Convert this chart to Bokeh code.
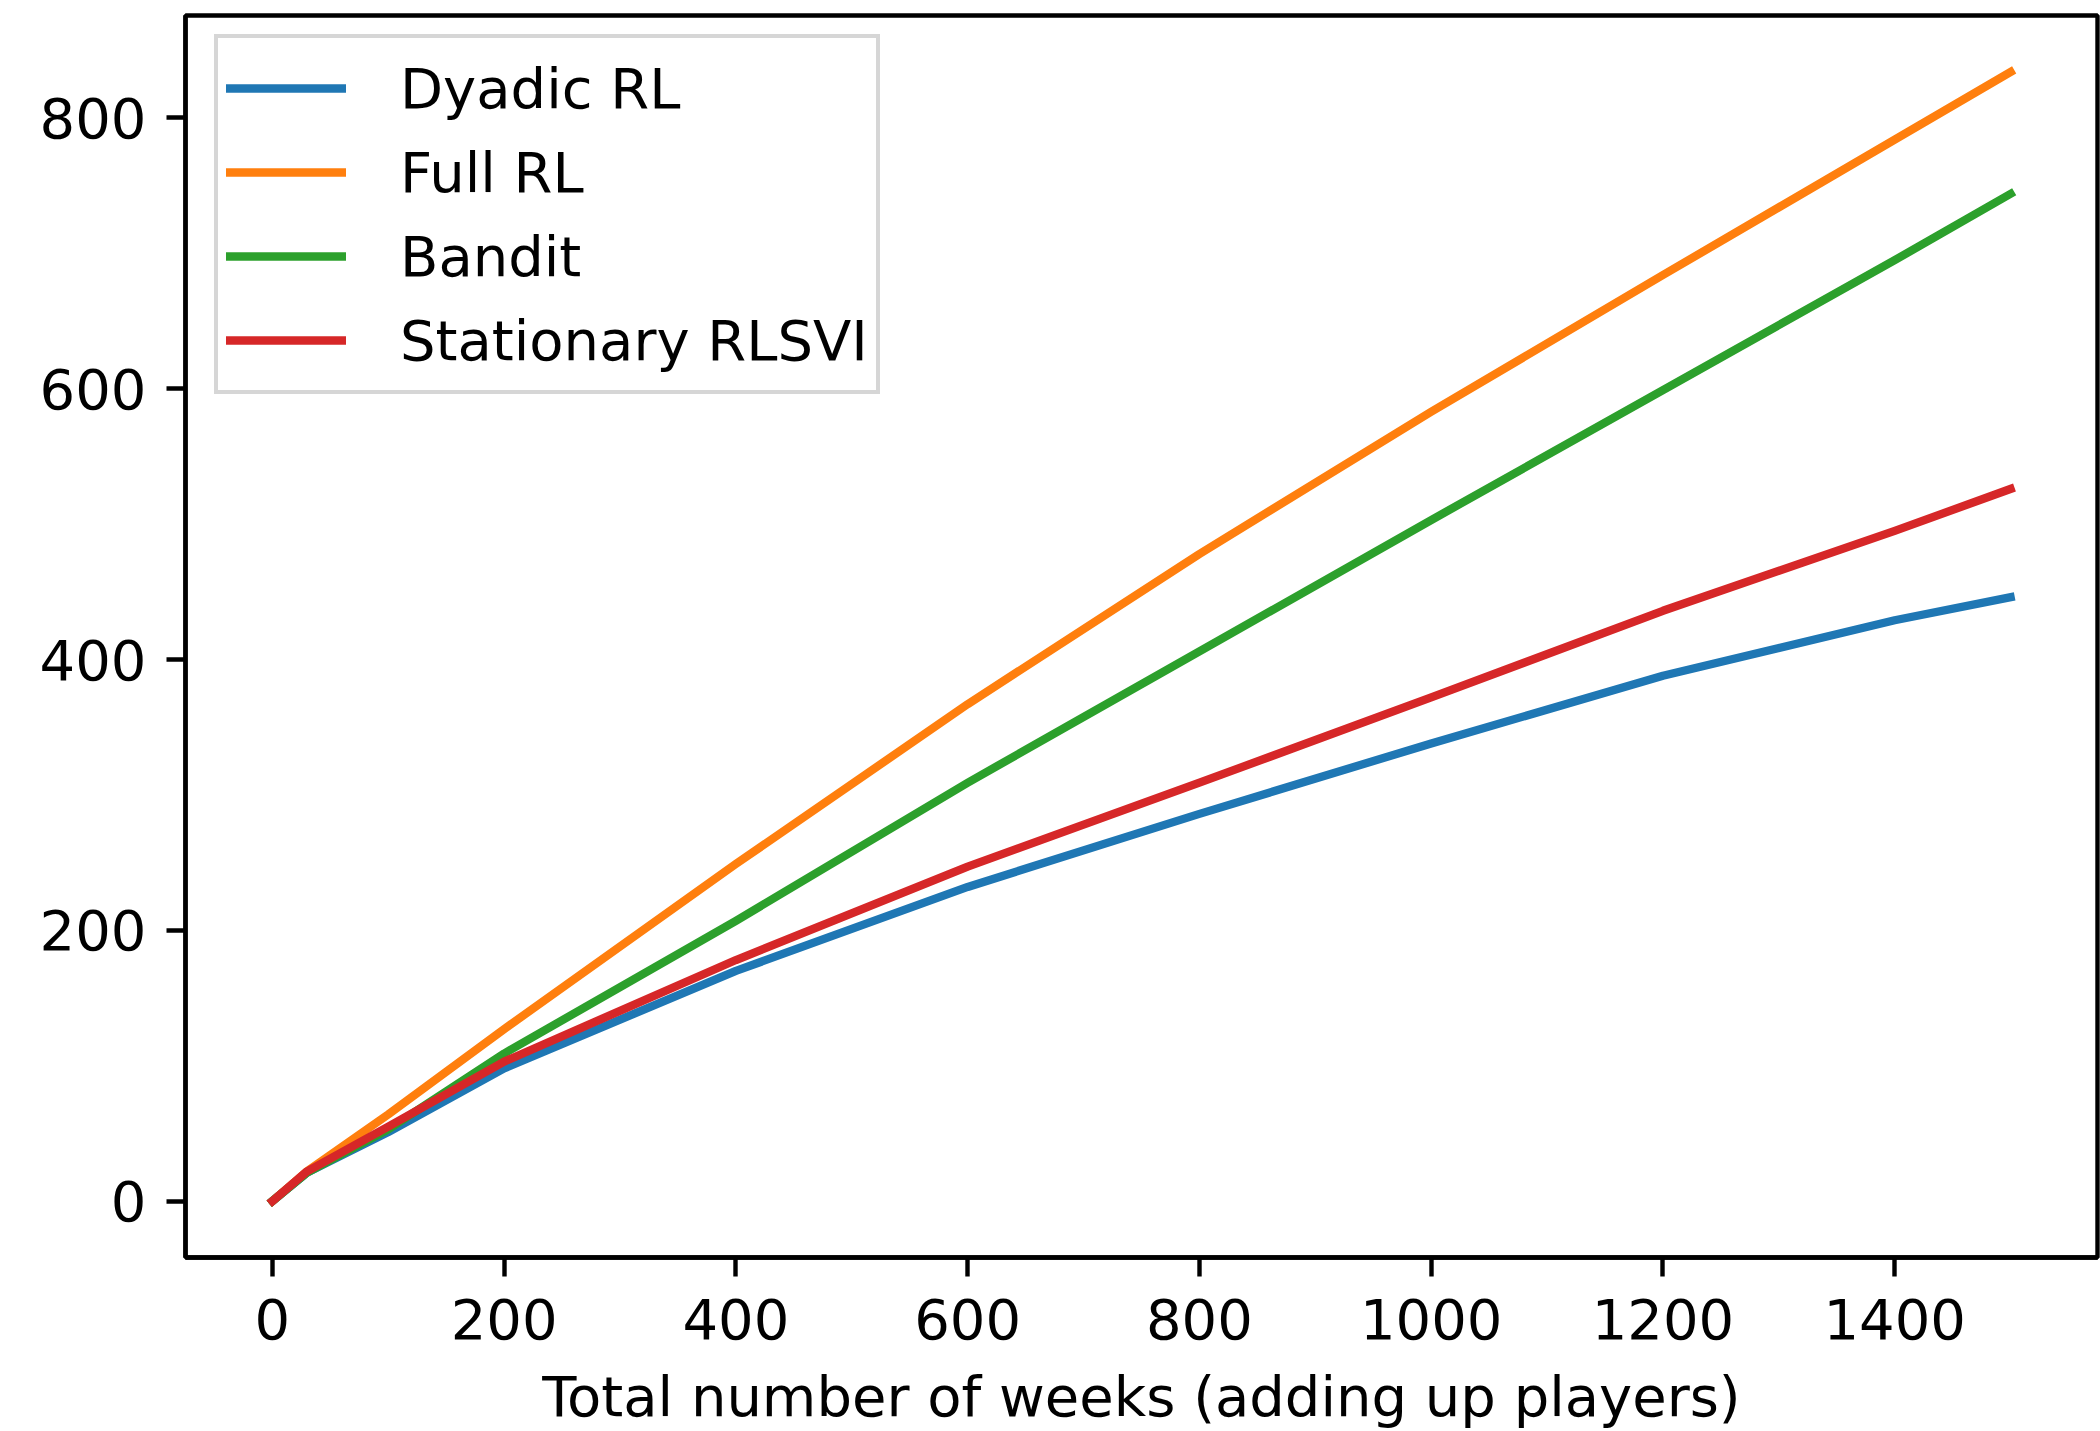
from bokeh.plotting import figure
from bokeh.models import Range1d, FixedTicker, Legend, LegendItem
from bokeh.embed import file_html
from bokeh.resources import INLINE

# ---- data ----
weeks = [0, 30, 100, 200, 400, 600, 800, 1000, 1200, 1400, 1500]
dyadic_rl = [0, 21, 51, 98, 170, 232, 286, 338, 388, 429, 446]
full_rl = [0, 22, 64, 127, 249, 367, 478, 583, 684, 784, 834]
bandit = [0, 21, 53, 109, 207, 309, 406, 503, 599, 695, 744]
stationary_rlsvi = [0, 22, 55, 103, 178, 247, 309, 372, 436, 495, 526]

series_names = ["Dyadic RL", "Full RL", "Bandit", "Stationary RLSVI"]
series_values = [dyadic_rl, full_rl, bandit, stationary_rlsvi]
series_colors = ["#1f77b4", "#ff7f0e", "#2ca02c", "#d62728"]

x_ticks = [0, 200, 400, 600, 800, 1000, 1200, 1400]
y_ticks = [0, 200, 400, 600, 800]
x_label = "Total number of weeks (adding up players)"

# matplotlib-like 5% margins
xmin, xmax = min(weeks), max(weeks)
ymin = min(min(v) for v in series_values)
ymax = max(max(v) for v in series_values)
xpad = 0.05 * (xmax - xmin)
ypad = 0.05 * (ymax - ymin)

FONT = "DejaVu Sans"
FS = "56px"

W, H = 2100, 1431
B_LEFT, B_RIGHT, B_TOP, B_BOTTOM = 185, 3, 15, 174
FRAME_H = H - B_TOP - B_BOTTOM

p = figure(width=W, height=H, output_backend="svg", toolbar_location=None,
           x_range=Range1d(xmin - xpad, xmax + xpad),
           y_range=Range1d(ymin - ypad, ymax + ypad),
           min_border_left=B_LEFT, min_border_right=B_RIGHT,
           min_border_top=B_TOP, min_border_bottom=B_BOTTOM)

p.background_fill_color = "white"
p.border_fill_color = "white"
p.xgrid.visible = False
p.ygrid.visible = False
p.outline_line_color = "black"
p.outline_line_width = 4.4
p.outline_line_alpha = 1.0

for ax in (p.xaxis[0], p.yaxis[0]):
    ax.axis_line_color = "black"
    ax.axis_line_width = 4.4
    ax.major_tick_line_color = "black"
    ax.major_tick_line_width = 4.4
    ax.major_tick_out = 19
    ax.major_tick_in = 0
    ax.minor_tick_line_color = None
    ax.major_label_text_font = FONT
    ax.major_label_text_font_size = FS
    ax.major_label_text_color = "black"

p.xaxis[0].ticker = FixedTicker(ticks=x_ticks)
p.yaxis[0].ticker = FixedTicker(ticks=y_ticks)
p.xaxis[0].major_label_standoff = 22
p.yaxis[0].major_label_standoff = 20
p.xaxis[0].axis_label = x_label
p.xaxis[0].axis_label_text_font = FONT
p.xaxis[0].axis_label_text_font_size = FS
p.xaxis[0].axis_label_text_font_style = "normal"
p.xaxis[0].axis_label_text_color = "black"
p.xaxis[0].axis_label_standoff = 22

items = []
for name, vals, col in zip(series_names, series_values, series_colors):
    r = p.line(weeks, vals, line_color=col, line_width=8.3,
               line_join="round", line_cap="square")
    items.append(LegendItem(label=name, renderers=[r]))

LEG_PAD = 8
LEG_ROW = 84
LEG_BORDER = 4
LEG_H = 2 * LEG_PAD + LEG_ROW * len(items) + LEG_BORDER
LEG_TOP_FROM_FRAME = 23

legend = Legend(items=items,
                location=(29, FRAME_H - LEG_TOP_FROM_FRAME - LEG_H))
legend.margin = 0
legend.padding = LEG_PAD
legend.spacing = 0
legend.glyph_width = 120
legend.glyph_height = LEG_ROW
legend.label_height = LEG_ROW
legend.label_standoff = 54
legend.label_text_font = FONT
legend.label_text_font_size = FS
legend.label_text_color = "black"
legend.label_text_baseline = "middle"
legend.border_line_color = "#cccccc"
legend.border_line_width = LEG_BORDER
legend.border_line_alpha = 0.8
legend.background_fill_color = "white"
legend.background_fill_alpha = 0.8
p.add_layout(legend)

open("out.html", "w").write(file_html(p, INLINE))
